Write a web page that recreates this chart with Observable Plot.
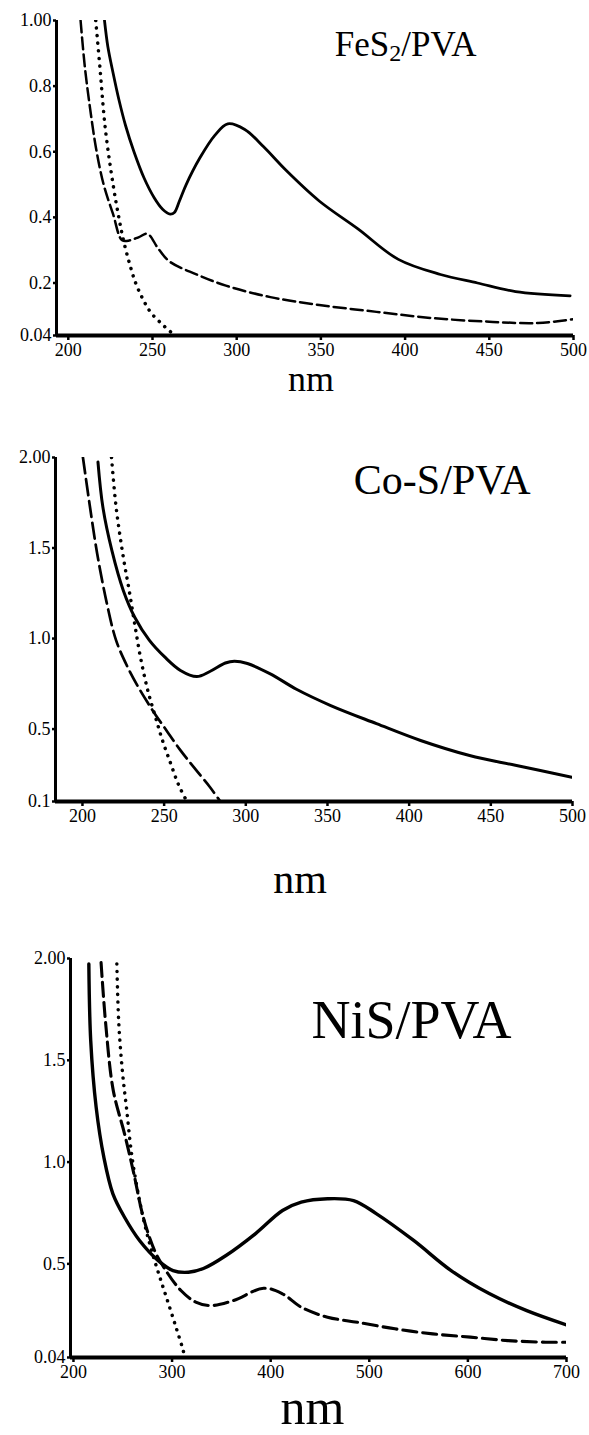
<!DOCTYPE html>
<html><head><meta charset="utf-8">
<script src="https://cdn.jsdelivr.net/npm/d3@7"></script>
<script src="https://cdn.jsdelivr.net/npm/@observablehq/plot@0.6"></script>
<style>
body{margin:0;background:#fff;}
#c{position:relative;width:589px;height:1435px;background:#fff;}
#c svg{position:absolute;left:0;overflow:visible;}
</style></head><body><div id="c"></div>
<script>
// ---------- Panel 1: FeS2/PVA ----------
const fesTitle = "FeS2/PVA";
const fesXTicks = [200, 250, 300, 350, 400, 450, 500];
const fesYTicks = [0.04, 0.2, 0.4, 0.6, 0.8, 1.0];
const fesYLabels = ["0.04", "0.2", "0.4", "0.6", "0.8", "1.00"];
const fesSolid = [[221.5,1.0],[223.5,0.92],[226.6,0.84],[230,0.76],[234,0.68],[239,0.6],[245,0.52],[251,0.46],[256,0.425],[260.5,0.41],[263,0.415],[266,0.45],[270,0.5],[278,0.58],[287,0.65],[294.7,0.685],[304.8,0.668],[316,0.615],[329,0.545],[349,0.45],[372,0.365],[396,0.272],[421,0.226],[443,0.2],[465.6,0.174],[498,0.161]];
const fesDash = [[207.3,1.0],[209.8,0.86],[213,0.73],[216.5,0.61],[221,0.5],[226.6,0.41],[232,0.33],[236.6,0.33],[242,0.34],[247,0.35],[253.4,0.305],[260,0.266],[275.7,0.227],[293.6,0.192],[320,0.157],[349,0.133],[383,0.112],[416.4,0.093],[450,0.082],[479,0.078],[500,0.09]];
const fesDot = [[216.3,1.0],[218.8,0.856],[222,0.67],[226.6,0.5],[230,0.40],[233,0.325],[236.6,0.255],[240,0.2],[244.4,0.15],[249,0.11],[255.6,0.075],[261,0.05],[263,0.04]];

// ---------- Panel 2: Co-S/PVA ----------
const cosTitle = "Co-S/PVA";
const cosXTicks = [200, 250, 300, 350, 400, 450, 500];
const cosYTicks = [0.1, 0.5, 1.0, 1.5, 2.0];
const cosYLabels = ["0.1", "0.5", "1.0", "1.5", "2.00"];
const cosSolid = [[209.5,1.975],[212.5,1.726],[218,1.487],[225,1.266],[232,1.118],[241,0.99],[250.5,0.897],[260,0.824],[270,0.79],[278,0.818],[287.5,0.865],[293,0.875],[301,0.862],[315,0.805],[331,0.72],[352,0.63],[380,0.53],[407,0.437],[437,0.354],[465,0.30],[499.6,0.234]];
const cosDash = [[200.3,2.0],[204.4,1.74],[209,1.47],[214.8,1.2],[220.6,0.99],[227.5,0.845],[234,0.735],[240,0.645],[245,0.575],[250.5,0.505],[259.8,0.385],[269,0.28],[278,0.18],[284,0.105]];
const cosDot = [[217.8,2.0],[220.6,1.726],[225,1.45],[228.6,1.266],[232,1.08],[235.5,0.897],[240,0.713],[244.7,0.566],[249,0.437],[254,0.31],[258.5,0.2],[263,0.117],[264.5,0.1]];

// ---------- Panel 3: NiS/PVA ----------
const nisTitle = "NiS/PVA";
const nisXTicks = [200, 300, 400, 500, 600, 700];
const nisYTicks = [0.04, 0.5, 1.0, 1.5, 2.0];
const nisYLabels = ["0.04", "0.5", "1.0", "1.5", "2.00"];
const nisSolid = [[215.6,1.973],[217.5,1.597],[223,1.27],[230.8,1.024],[240,0.844],[251.8,0.729],[267,0.615],[286,0.516],[301,0.467],[316.6,0.459],[331.8,0.477],[354.7,0.541],[385,0.65],[412,0.762],[431,0.803],[457.7,0.82],[484,0.811],[507,0.747],[545,0.615],[583,0.467],[621.6,0.354],[659.7,0.27],[700,0.2]];
const nisDash = [[228,1.98],[232.7,1.679],[240.4,1.351],[251.8,1.139],[261.3,0.942],[270.8,0.729],[282.3,0.565],[293.7,0.467],[309,0.369],[324,0.312],[339.4,0.295],[362.3,0.32],[392.8,0.38],[411.9,0.353],[431,0.287],[457.7,0.238],[488,0.213],[526,0.181],[564.4,0.156],[602.5,0.14],[640.6,0.123],[678.8,0.115],[700,0.115]];
const nisDot = [[244,1.973],[246,1.679],[249.9,1.433],[253.7,1.27],[259.4,1.024],[267,0.811],[274.6,0.648],[282.3,0.516],[289.9,0.4],[297.5,0.287],[305,0.173],[310.8,0.083],[313,0.04]];

const xLabel = "nm";
const serif = "Liberation Serif, Times New Roman, serif";

function panel(c) {
  const X = d => d[0], Y = d => d[1];
  const svg = Plot.plot({
    width: 589, height: c.height,
    marginTop: c.mt, marginBottom: c.mb, marginLeft: c.ml, marginRight: c.mr,
    style: {fontFamily: serif, fontSize: "18px", color: "black", background: "white"},
    x: {domain: c.xDomain, ticks: c.xTicks, tickSize: 5, tickPadding: 3, label: null},
    y: {domain: c.yDomain, ticks: c.yTicks, tickFormat: v => c.yLabels[c.yTicks.indexOf(v)], tickSize: 3, tickPadding: 2, label: null},
    marks: [
      Plot.line(c.solid, {x: X, y: Y, curve: "catmull-rom", stroke: "black", strokeWidth: c.sw, clip: true}),
      Plot.line(c.dash, {x: X, y: Y, curve: "catmull-rom", stroke: "black", strokeWidth: c.sw - 0.3, strokeDasharray: c.dashArray, clip: true}),
      Plot.line(c.dot, {x: X, y: Y, curve: "catmull-rom", stroke: "black", strokeWidth: 3.5, strokeDasharray: "0.1,7.5", strokeLinecap: "round", clip: true}),
      Plot.ruleX([c.xDomain[0]], {stroke: "black", strokeWidth: 3}),
      Plot.ruleY([c.yDomain[0]], {stroke: "black", strokeWidth: 4}),
      Plot.text([c.title], {text: d => d, frameAnchor: "top-right", dx: c.tdx, dy: c.tdy, textAnchor: "end", lineAnchor: "bottom", fontSize: c.tfs, fontFamily: serif, fill: "black"}),
      Plot.text([xLabel], {text: d => d, frameAnchor: "bottom", dx: c.ndx, dy: c.ndy, textAnchor: "middle", lineAnchor: "bottom", fontSize: c.nfs, fontFamily: serif, fill: "black"})
    ]
  });
  svg.style.top = c.top + "px";
  // enlarge axis tick labels, thicken tick marks
  const titleTexts = [c.title, xLabel];
  svg.querySelectorAll("text").forEach(t => {
    if (!titleTexts.includes(t.textContent)) { t.style.fontSize = "18px"; t.style.fill = "black"; }
  });
  svg.querySelectorAll("[aria-label$='axis tick'] path, [aria-label$='axis tick'] line, g.tick line").forEach(p => { p.style.strokeWidth = "2.5px"; });
  document.getElementById("c").appendChild(svg);
  return svg;
}

const s1 = panel({top: 0, height: 430, mt: 20, mb: 95, ml: 56, mr: 16,
  xDomain: [193, 500], yDomain: [0.04, 1.0], xTicks: fesXTicks, yTicks: fesYTicks, yLabels: fesYLabels,
  solid: fesSolid, dash: fesDash, dot: fesDot, sw: 2.8, dashArray: "12,5",
  title: fesTitle, tdx: -97, tdy: 35, tfs: 35, ndx: -4, ndy: 55, nfs: 36});

panel({top: 430, height: 500, mt: 27, mb: 129, ml: 55, mr: 17,
  xDomain: [183.5, 500], yDomain: [0.1, 2.0], xTicks: cosXTicks, yTicks: cosYTicks, yLabels: cosYLabels,
  solid: cosSolid, dash: cosDash, dot: cosDot, sw: 3, dashArray: "16,6",
  title: cosTitle, tdx: -42, tdy: 36, tfs: 42, ndx: -14, ndy: 91, nfs: 42});

panel({top: 930, height: 505, mt: 28, mb: 78, ml: 70, mr: 23,
  xDomain: [197, 700], yDomain: [0.04, 2.0], xTicks: nisXTicks, yTicks: nisYTicks, yLabels: nisYLabels,
  solid: nisSolid, dash: nisDash, dot: nisDot, sw: 3.4, dashArray: "14,6",
  title: nisTitle, tdx: -55, tdy: 79, tfs: 54, ndx: -6, ndy: 66, nfs: 50});

// subscript 2 in FeS2
const NS = "http://www.w3.org/2000/svg";
s1.querySelectorAll("text").forEach(t => {
  if (t.textContent === fesTitle) {
    t.textContent = "";
    t.append("FeS");
    const sub = document.createElementNS(NS, "tspan");
    sub.setAttribute("font-size", "24");
    sub.setAttribute("dy", "5");
    sub.textContent = "2";
    const rest = document.createElementNS(NS, "tspan");
    rest.setAttribute("dy", "-5");
    rest.textContent = "/PVA";
    t.append(sub, rest);
  }
});
</script></body></html>
